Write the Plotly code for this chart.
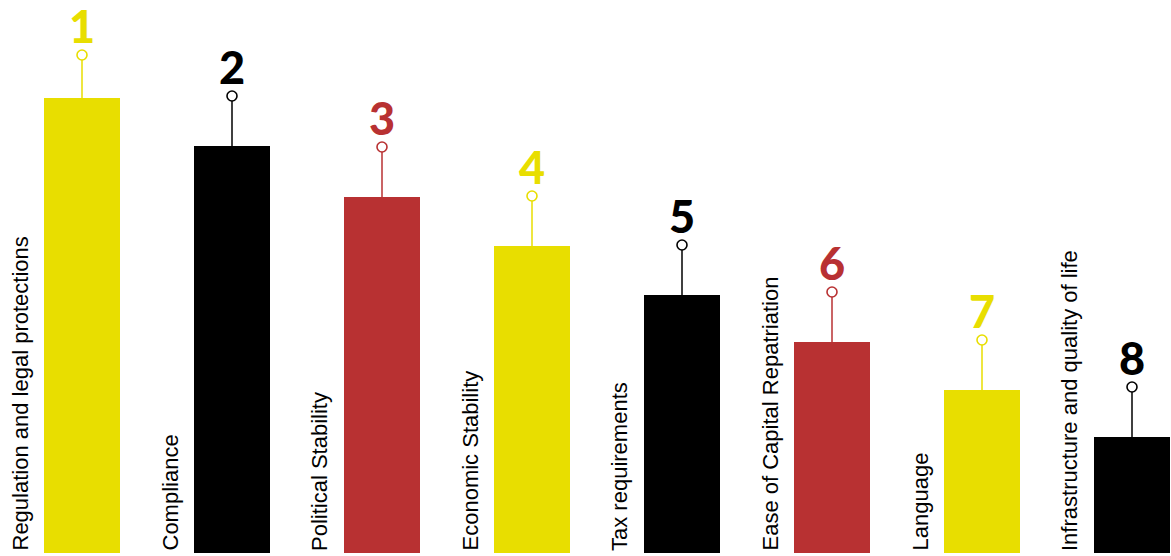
import plotly.graph_objects as go

categories = [
    "Regulation and legal protections",
    "Compliance",
    "Political Stability",
    "Economic Stability",
    "Tax requirements",
    "Ease of Capital Repatriation",
    "Language",
    "Infrastructure and quality of life",
]
ranks = [1, 2, 3, 4, 5, 6, 7, 8]
values = [9.10, 8.14, 7.12, 6.14, 5.16, 4.22, 3.26, 2.32]

YELLOW = "#E8DE00"
BLACK = "#000000"
RED = "#B83132"
colors = [YELLOW, BLACK, RED, YELLOW, BLACK, RED, YELLOW, BLACK]

STEM = 1.0    # stem length in value units
Y_MAX = 11.06
PIN_CAP = 9.96  # highest allowed pin position so the rank number fits

pins = [min(v + STEM, PIN_CAP) for v in values]

fig = go.Figure()

fig.add_trace(go.Bar(
    x=categories, y=values, width=0.507,
    marker=dict(color=colors, line=dict(width=0)),
    hoverinfo="x+y", showlegend=False,
))

# stems
for cat, v, p, c in zip(categories, values, pins, colors):
    fig.add_trace(go.Scatter(
        x=[cat, cat], y=[v, p], mode="lines",
        line=dict(color=c, width=1.5), showlegend=False, hoverinfo="skip",
    ))

# circles
fig.add_trace(go.Scatter(
    x=categories, y=pins, mode="markers",
    marker=dict(symbol="circle", size=10, color="white",
                line=dict(color=colors, width=1.6)),
    showlegend=False, hoverinfo="skip",
))

annotations = []
for cat, p, c, r in zip(categories, pins, colors, ranks):
    annotations.append(dict(
        x=cat, y=p, xref="x", yref="y", yshift=29,
        text=str(r), showarrow=False, xanchor="center", yanchor="middle",
        font=dict(family="Lato", size=45, color=c, weight=900),
    ))
for cat in categories:
    annotations.append(dict(
        x=cat, y=0, xref="x", yref="y", xshift=-48,
        text=cat, textangle=-90, showarrow=False,
        xanchor="right", yanchor="bottom",
        font=dict(family="Liberation Sans, Arial", size=22, color="#000000"),
    ))

fig.update_layout(
    width=1171, height=556,
    margin=dict(l=0, r=0, t=0, b=3),
    paper_bgcolor="white", plot_bgcolor="white",
    annotations=annotations,
    xaxis=dict(type="category", range=[-0.5467, 7.26], showticklabels=False,
               showgrid=False, zeroline=False, showline=False, ticks=""),
    yaxis=dict(range=[0, Y_MAX], showticklabels=False, showgrid=False,
               zeroline=False, showline=False, ticks=""),
    bargap=0,
)

fig.write_html(
    "out.html",
    config={"displayModeBar": False},
    post_script="document.body.style.margin='0';document.body.style.overflow='hidden';",
)
